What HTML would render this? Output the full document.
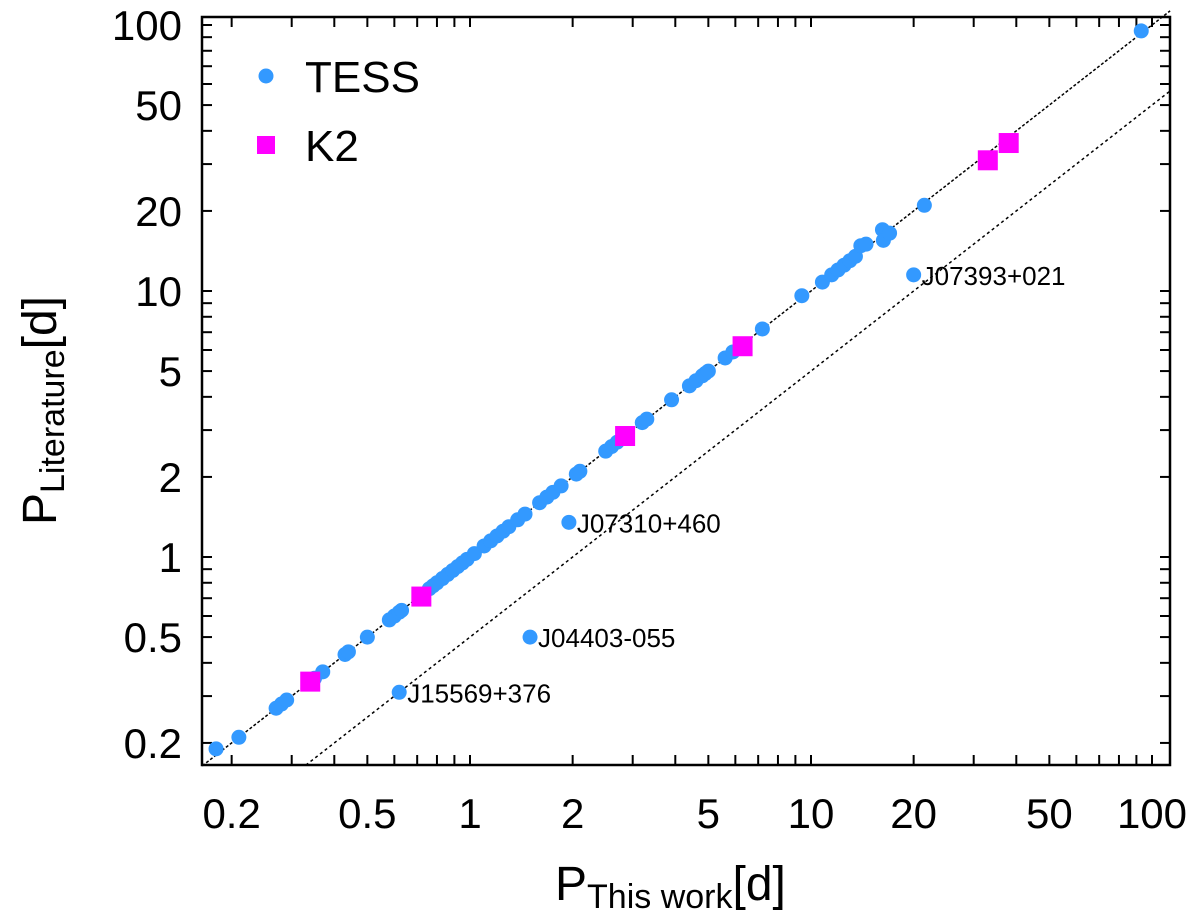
<!DOCTYPE html>
<html><head><meta charset="utf-8"><style>
body{margin:0;background:#fff}
svg{display:block}
text{font-family:"Liberation Sans","DejaVu Sans",sans-serif}
</style></head><body>
<svg id="chart" width="1200" height="919" viewBox="0 0 1200 919" xmlns="http://www.w3.org/2000/svg">
<g id="ticks"></g>
<g id="lines"></g>
<g id="marks"></g>
<rect x="202" y="17" width="968" height="748" fill="none" stroke="#000" stroke-width="2.5"/>
<g>
<circle cx="266" cy="76" r="7.5" fill="#3399ff"/>
<text x="305" y="92" font-size="44">TESS</text>
<rect x="257" y="136" width="18" height="18" fill="#ff00ff"/>
<text x="305" y="161" font-size="44">K2</text>
</g>
<text x="555" y="900" font-size="48">P<tspan font-size="34" dy="8">This work</tspan><tspan dy="-8">[d]</tspan></text>
<text transform="translate(56,525) rotate(-90)" font-size="48">P<tspan font-size="34" dy="8">Literature</tspan><tspan dy="-8">[d]</tspan></text>
</svg>
<script>
const tessThis=[0.18,0.21,0.27,0.28,0.29,0.35,0.37,0.43,0.44,0.50,0.58,0.60,0.62,0.63,0.76,0.78,0.80,0.83,0.86,0.89,0.92,0.95,0.98,1.03,1.1,1.15,1.2,1.25,1.3,1.38,1.45,1.6,1.68,1.75,1.85,2.05,2.1,2.5,2.6,2.7,3.2,3.3,3.9,4.4,4.6,4.8,4.9,5.0,5.6,5.9,7.2,9.4,10.8,11.5,12,12.5,13,13.5,14,14.5,16.2,16.3,17,21.5,93];
const tessLit=[0.19,0.21,0.27,0.28,0.29,0.35,0.37,0.43,0.44,0.50,0.58,0.60,0.62,0.63,0.76,0.78,0.80,0.83,0.86,0.89,0.92,0.95,0.98,1.03,1.1,1.15,1.2,1.25,1.3,1.38,1.45,1.6,1.68,1.75,1.85,2.05,2.1,2.5,2.6,2.7,3.2,3.3,3.9,4.4,4.6,4.8,4.9,5.0,5.6,5.9,7.2,9.6,10.8,11.5,12,12.5,13,13.5,14.8,15,17,15.5,16.5,21,95];
const k2This=[0.34,0.72,2.85,6.3,33,38];
const k2Lit=[0.34,0.71,2.85,6.2,31,36];
const outNames=["J15569+376","J04403-055","J07310+460","J07393+021"];
const outThis=[0.62,1.5,1.95,20];
const outLit=[0.31,0.50,1.35,11.5];
const xTickLabels=["0.2","0.5","1","2","5","10","20","50","100"];
const yTickLabels=["0.2","0.5","1","2","5","10","20","50","100"];

const NS="http://www.w3.org/2000/svg";
const L=202,R=1170,T=17,B=765;
function xs(v){return 470+341*Math.log10(v);}
function ys(v){return 557-266*Math.log10(v);}
function mk(tag,attrs,parent){const e=document.createElementNS(NS,tag);for(const k in attrs)e.setAttribute(k,attrs[k]);parent.appendChild(e);return e;}
const gT=document.getElementById('ticks'),gL=document.getElementById('lines'),gM=document.getElementById('marks');
for(let d=-1;d<=2;d++){for(let m=1;m<=9;m++){const v=m*Math.pow(10,d);
 const x=xs(v);if(x>L+1&&x<R-1){
  const t1=mk('line',{x1:x,y1:B,x2:x,y2:B-10,stroke:'#000','stroke-width':2},gT);
  
  const t2=mk('line',{x1:x,y1:T,x2:x,y2:T+10,stroke:'#000','stroke-width':2},gT);
  }
 const y=ys(v);if(y>T+1&&y<B-1){
  const t3=mk('line',{x1:L,y1:y,x2:L+10,y2:y,stroke:'#000','stroke-width':2},gT);
  
  const t4=mk('line',{x1:R,y1:y,x2:R-10,y2:y,stroke:'#000','stroke-width':2},gT);
  }
}}
xTickLabels.forEach(s=>{const t=mk('text',{x:xs(parseFloat(s)),y:828,'font-size':42,'text-anchor':'middle'},gT);t.textContent=s;
 });
yTickLabels.forEach(s=>{const t=mk('text',{x:182,y:ys(parseFloat(s))+15,'font-size':42,'text-anchor':'end'},gT);t.textContent=s;
 });
const x0=0.164,x1=113;
const l1=mk('line',{x1:xs(x0),y1:ys(x0),x2:xs(x1),y2:ys(x1),stroke:'#000','stroke-width':1.5,'stroke-dasharray':'3,2'},gL);

const l2=mk('line',{x1:xs(0.33),y1:ys(0.165),x2:xs(x1),y2:ys(x1/2),stroke:'#000','stroke-width':1.5,'stroke-dasharray':'3,3'},gL);

tessThis.forEach((v,i)=>{const c=mk('circle',{cx:xs(v),cy:ys(tessLit[i]),r:7.5,fill:'#3399ff'},gM);
 });
outThis.forEach((v,i)=>{const c=mk('circle',{cx:xs(v),cy:ys(outLit[i]),r:7.5,fill:'#3399ff'},gM);
 
 const t=mk('text',{x:xs(v)+8,y:ys(outLit[i])+10,'font-size':26,'font-family':'DejaVu Sans, sans-serif'},gM);t.textContent=outNames[i];
 });
k2This.forEach((v,i)=>{const r=mk('rect',{x:xs(v)-10,y:ys(k2Lit[i])-10,width:20,height:20,fill:'#ff00ff'},gM);
 });
</script>
</body></html>
